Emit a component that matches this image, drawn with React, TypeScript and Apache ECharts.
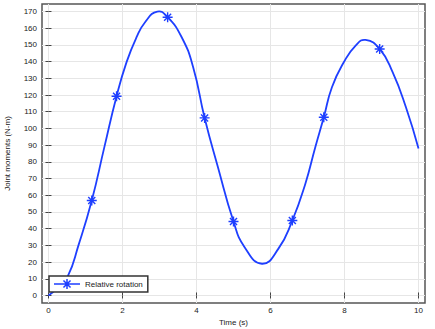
import React, { useEffect, useRef } from 'react';
import * as echarts from 'echarts';

const timeS = [0.0, 0.25, 0.52, 0.81, 1.17, 1.51, 1.84, 2.11, 2.38, 2.61, 2.94, 3.22, 3.6, 3.91, 4.22, 4.58, 5.0, 5.3, 5.77, 6.21, 6.59, 6.94, 7.21, 7.44, 7.66, 7.98, 8.3, 8.57, 8.95, 9.3, 9.66, 10.0];
const moment = [0.0, 4.5, 11.4, 30.0, 56.9, 88.8, 119.3, 139.7, 154.6, 163.6, 170.0, 166.6, 154.6, 136.7, 106.3, 76.8, 44.3, 28.9, 19.0, 27.9, 44.9, 66.8, 88.8, 106.7, 124.7, 139.6, 149.6, 153.0, 147.6, 133.7, 112.7, 88.0];
const markerTimes = [1.17, 1.84, 3.22, 4.22, 5.0, 6.59, 7.44, 8.95];
const xTicks = [0, 2, 4, 6, 8, 10];
const yTicks = [0, 10, 20, 30, 40, 50, 60, 70, 80, 90, 100, 110, 120, 130, 140, 150, 160, 170];
const seriesName = 'Relative rotation';
const xName = 'Time (s)';
const yName = 'Joint moments (N-m)';

const ASTERISK =
  'path://M8.6,0 L11.4,0 L11.4,20 L8.6,20 Z ' +
  'M0,8.6 L20,8.6 L20,11.4 L0,11.4 Z ' +
  'M3.94,1.96 L18.04,16.06 L16.06,18.04 L1.96,3.94 Z ' +
  'M18.04,3.94 L3.94,18.04 L1.96,16.06 L16.06,1.96 Z';

const LEGEND_ICON =
  'path://M0,4.3 L26,4.3 L26,5.7 L0,5.7 Z ' +
  'M12.25,0 L13.75,0 L13.75,10 L12.25,10 Z ' +
  'M9.99,0.93 L17.07,8.01 L16.01,9.07 L8.93,1.99 Z ' +
  'M17.07,1.99 L9.99,9.07 L8.93,8.01 L16.01,0.93 Z';

const BLUE = '#1e3fff';
const FONT = 'Liberation Sans, Arial, sans-serif';

export default function App() {
  const ref = useRef<HTMLDivElement>(null);
  useEffect(() => {
    const chart = echarts.init(ref.current!, null, { renderer: 'svg' });
    const markerData = markerTimes.map((t) => [t, moment[timeS.indexOf(t)]]);
    const baseX = {
      type: 'value' as const,
      min: -0.175,
      max: 10.175,
      axisLine: { show: false },
      splitLine: { show: false },
      axisTick: { show: true, inside: true, length: 3, customValues: xTicks, lineStyle: { color: '#444', width: 1 } },
    };
    const baseY = {
      type: 'value' as const,
      min: -4.5,
      max: 174.5,
      axisLine: { show: false },
      splitLine: { show: false },
      axisTick: { show: true, inside: true, length: 3, customValues: yTicks, lineStyle: { color: '#444', width: 1 } },
    };
    chart.setOption({
      animation: false,
      backgroundColor: '#fff',
      textStyle: { fontFamily: FONT },
      grid: {
        left: 42,
        right: 10,
        top: 4,
        bottom: 26,
        outerBoundsMode: 'none',
        containLabel: false,
        show: true,
        borderColor: '#555',
        borderWidth: 1.5,
        backgroundColor: '#fff',
      },
      legend: {
        show: true,
        left: 49,
        top: 276,
        orient: 'horizontal',
        backgroundColor: '#fff',
        borderColor: '#333',
        borderWidth: 1.5,
        borderRadius: 0,
        padding: [3, 5, 3, 5],
        itemWidth: 26,
        itemHeight: 10,
        itemGap: 4,
        textStyle: { fontSize: 8, color: '#222', fontFamily: FONT },
        data: [{ name: seriesName, icon: LEGEND_ICON }],
      },
      xAxis: [
        {
          ...baseX,
          position: 'bottom',
          name: xName,
          nameLocation: 'middle',
          nameGap: 11,
          nameTextStyle: { fontSize: 8, color: '#222' },
          splitLine: { show: true, lineStyle: { color: '#e6e6e6', width: 1 } },
          axisLabel: { show: true, customValues: xTicks, fontSize: 8, color: '#222', margin: 3 },
        },
        {
          ...baseX,
          position: 'top',
          axisLabel: { show: false },
        },
      ],
      yAxis: [
        {
          ...baseY,
          position: 'left',
          name: yName,
          nameLocation: 'middle',
          nameGap: 31,
          nameTextStyle: { fontSize: 8, color: '#222' },
          splitLine: { show: true, lineStyle: { color: '#e6e6e6', width: 1 } },
          axisLabel: { show: true, customValues: yTicks, fontSize: 8, color: '#222', margin: 5 },
        },
        {
          ...baseY,
          position: 'right',
          axisLabel: { show: false },
        },
      ],
      series: [
        {
          name: 'curve',
          type: 'custom',
          xAxisIndex: 0,
          yAxisIndex: 0,
          data: [[timeS[0], moment[0]]],
          renderItem: (_params: any, api: any) => {
            const pts = timeS.map((t, i) => api.coord([t, moment[i]]));
            return {
              type: 'polyline',
              shape: { points: pts, smooth: 0.5 },
              style: { stroke: BLUE, lineWidth: 1.8, fill: null },
              silent: true,
            };
          },
        },
        {
          name: seriesName,
          type: 'scatter',
          xAxisIndex: 0,
          yAxisIndex: 0,
          symbol: ASTERISK,
          symbolSize: 10,
          itemStyle: { color: BLUE, opacity: 1 },
          data: markerData,
        },
      ],
    });
    return () => chart.dispose();
  }, []);
  return (
    <div
      ref={ref}
      style={{ position: 'fixed', left: 0, top: 0, width: 435, height: 329, background: '#fff' }}
    />
  );
}
